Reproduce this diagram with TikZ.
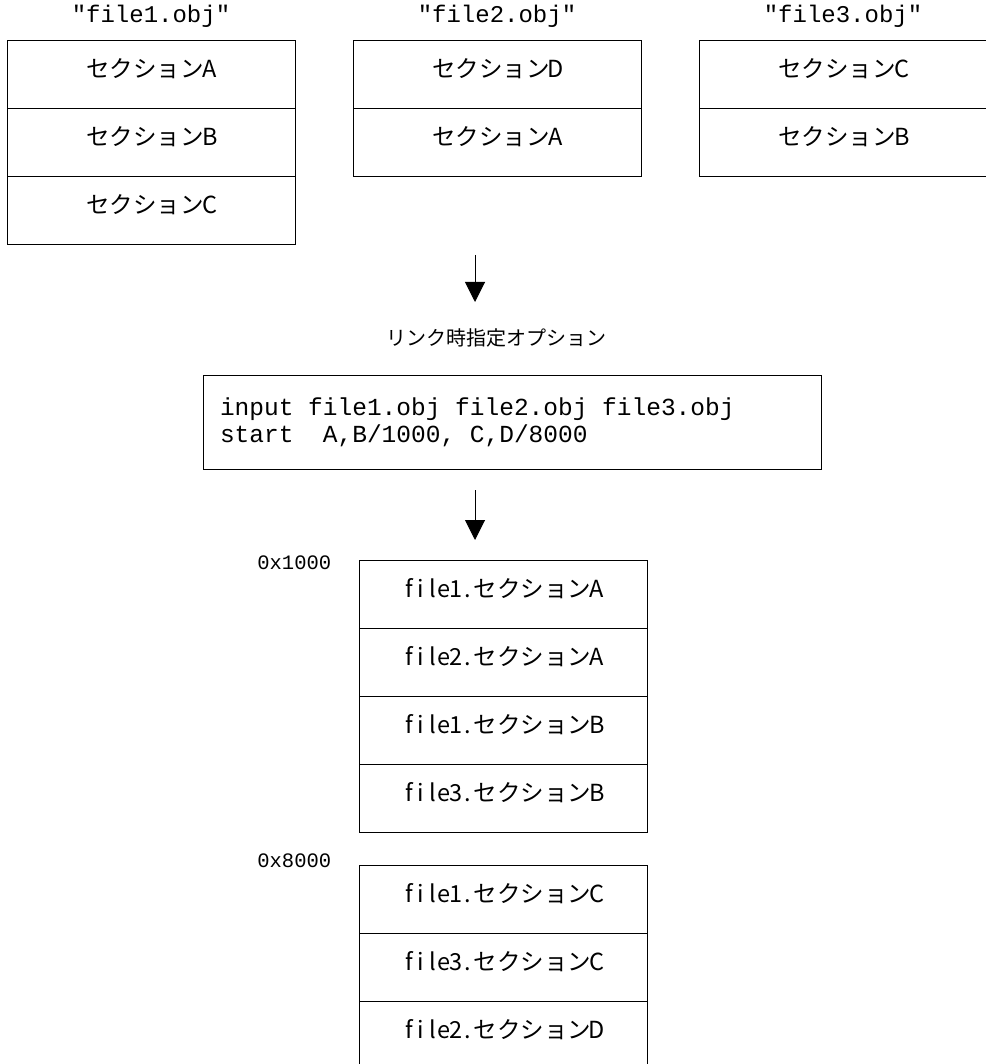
\documentclass[tikz,border=0pt]{standalone}
\usepackage{fontspec}
\setmonofont{Liberation Mono}
\newfontfamily\jpfont{Noto Sans CJK JP}
\usetikzlibrary{positioning,arrows.meta}

% half-width latin letters, one fixed cell each
\def\hwloop#1{\ifx#1\relax\else\makebox[0.5em]{#1}\expandafter\hwloop\fi}
\newcommand\hw[1]{\hwloop#1\relax}
% one full monospace blank
\newcommand\osp{\hspace*{0.6em}}

\begin{document}
\begin{tikzpicture}[x=1pt, y=1pt, line width=1pt]
    		\tikzstyle{cell} = [rectangle, draw, minimum width=288pt, minimum height=68pt, inner sep=0pt, outer sep=0pt,
    		                    text height=12pt, text depth=6pt, font=\jpfont\fontsize{23.5}{26}\selectfont]
    		\tikzstyle{filelabel} = [font=\ttfamily\fontsize{24}{26}\selectfont, anchor=base]
    		\tikzstyle{addrlabel} = [font=\ttfamily\fontsize{20.5}{22}\selectfont, anchor=base east]
    		\tikzstyle{linkarrow} = [-{Triangle[width=20pt, length=20pt]}]
    		\useasboundingbox (0,0) rectangle (985,-1064);
    		% object files
    		\node[cell] (f1a) at (151,-75) {セクション\hw{A}};
    		\node[cell, below=0pt of f1a] (f1b) {セクション\hw{B}};
    		\node[cell, below=0pt of f1b] (f1c) {セクション\hw{C}};
    		\node[cell] (f2d) at (497,-75) {セクション\hw{D}};
    		\node[cell, below=0pt of f2d] (f2a) {セクション\hw{A}};
    		\node[cell] (f3c) at (843,-75) {セクション\hw{C}};
    		\node[cell, below=0pt of f3c] (f3b) {セクション\hw{B}};
    		\foreach \cellname/\objname in {f1a/file1.obj, f2d/file2.obj, f3c/file3.obj}
    		{
        		\node[filelabel] (\cellname lbl) at ([yshift=18pt]\cellname.north) {"\objname"};
    		}
    		% link options
    		\coordinate (arrowAtop) at (475,-255);
    		\coordinate (arrowAend) at (475,-302);
    		\draw[linkarrow] (arrowAtop) -- (arrowAend);
    		\node[font=\jpfont\fontsize{20}{24}\selectfont] (linkopt) at (496,-338) {リンク時指定オプション};
    		\node[draw, minimum width=618pt, minimum height=94pt, inner xsep=17pt, text width=584pt, align=left, outer sep=0pt,
    		      font=\ttfamily\fontsize{24.5}{27}\selectfont] (cmd) at (512,-422)
    		      {input\osp file1.obj\osp file2.obj\osp file3.obj\\start\osp\osp A,B/1000,\osp C,D/8000};
    		\coordinate (arrowBtop) at (475,-490);
    		\coordinate (arrowBend) at (475,-540);
    		\draw[linkarrow] (arrowBtop) -- (arrowBend);
    		% result layout
    		\node[cell] (m1) at (503,-594) {\hw{file1.}セクション\hw{A}};
    		\node[cell, below=0pt of m1] (m2) {\hw{file2.}セクション\hw{A}};
    		\node[cell, below=0pt of m2] (m3) {\hw{file1.}セクション\hw{B}};
    		\node[cell, below=0pt of m3] (m4) {\hw{file3.}セクション\hw{B}};
    		\node[cell] (m5) at (503,-899) {\hw{file1.}セクション\hw{C}};
    		\node[cell, below=0pt of m5] (m6) {\hw{file3.}セクション\hw{C}};
    		\node[cell, below=0pt of m6] (m7) {\hw{file2.}セクション\hw{D}};
    		\node[addrlabel] (addrA) at (335,-569) {0x1000};
    		\node[addrlabel] (addrB) at (335,-867) {0x8000};
		\end{tikzpicture}
\end{document}
